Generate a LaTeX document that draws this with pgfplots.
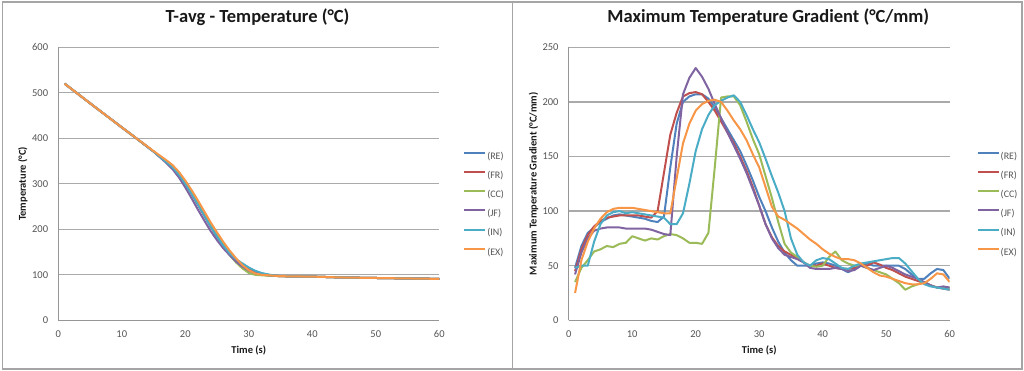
\documentclass[border=0pt]{standalone}
\usepackage{pgfplots}
\usepackage{pgfplotstable}
\pgfplotsset{compat=1.18}
\usepackage{fontspec}
\setmainfont{Carlito}

\definecolor{cRE}{HTML}{4F81BD}
\definecolor{cFR}{HTML}{C0504D}
\definecolor{cCC}{HTML}{9BBB59}
\definecolor{cJF}{HTML}{8064A2}
\definecolor{cIN}{HTML}{4BACC6}
\definecolor{cEX}{HTML}{F79646}
\definecolor{gridc}{RGB}{170,170,170}
\definecolor{axc}{RGB}{150,150,150}
\definecolor{tickc}{RGB}{85,85,85}
\definecolor{framec}{RGB}{165,165,165}

\pgfplotstableread{
x RE FR CC JF IN EX
1 520 520 520 520 520 520
5 477 477 477 477 477 477
10 424 424 424 424 424 424
12 403 403 403 403 403 403
15 371 371 371 371 371 372
17 348 348 348 346 348 352
18 336 336 336 332 336 341
19 320 320 321 314 320 326
20 300 300 302 292 300 307
21 278 278 280 268 278 286
22 254 254 258 243 254 263
23 230 230 233 219 230 239
24 206 206 210 196 206 215
25 184 184 187 176 184 193
26 164 164 165 158 164 172
27 147 147 143 143 147 153
28 133 132 127 129 134 136
29 123 120 114 118 125 121
30 115 111 104 109 116 110
31 108 105 100 104 109 103
32 103 101 99 101 104 100
33 100 99 98 99 101 99
34 98 98 97.5 98 98.5 98
35 97 97 97 97 97.5 97
37 96.5 96.5 96.5 96.5 96.5 96.5
40 96 96 96 96 96 96
45 94 94 94 94 94 94
50 93 93 93 93 93 93
55 92 92 92 92 92 92
60 91 91 91 91 91 91
}\tavg

\pgfplotstableread{
x RE FR CC JF IN EX
1 48 45 35 42 48 25
2 68 65 48 62 50 55
3 80 78 55 75 50 72
4 85 86 63 82 72 84
5 90 91 65 84 88 93
6 93 94 68 85 96 99
7 96 95 67 85 99 102
8 97 96 70 85 100 103
9 96 96 71 84 98 103
10 95 96 77 84 99 103
11 94 96 75 84 98 102
12 93 95 73 84 97 101
13 91 94 75 83 96 100
14 90 100 74 81 95 99
15 95 135 77 79 94 98
16 140 170 79 78 88 98
17 180 190 78 150 88 130
18 200 205 75 207 98 162
19 205 208 71 222 125 180
20 207 209 71 231 155 192
21 207 207 70 223 175 198
22 203 200 80 212 188 201
23 195 192 140 198 197 202
24 185 182 204 185 201 200
25 175 172 205 172 204 192
26 165 162 205 160 206 183
27 155 150 197 148 200 175
28 142 137 182 135 188 165
29 128 122 166 120 175 152
30 113 105 152 105 163 140
31 100 88 132 88 148 122
32 85 76 112 75 132 104
33 72 68 90 66 117 95
34 62 63 70 60 100 92
35 55 60 62 58 75 88
36 50 57 58 56 60 84
37 50 53 53 53 53 79
38 50 50 50 48 50 74
39 52 50 49 47 55 70
40 53 52 50 47 57 65
41 52 50 58 47 56 61
42 50 48 63 48 52 58
43 47 47 55 47 48 56
44 44 47 52 45 47 56
45 47 48 50 46 50 55
46 50 50 50 50 52 52
47 52 50 48 48 53 48
48 50 53 46 46 54 44
49 50 51 44 48 55 41
50 50 48 42 50 56 40
51 50 46 38 48 57 38
52 50 43 34 45 57 36
53 47 40 28 42 52 34
54 42 38 31 40 45 33
55 38 36 33 38 38 33
56 38 34 35 35 33 34
57 43 32 32 32 31 38
58 47 30 30 30 30 43
59 46 29 30 31 29 42
60 38 28 30 30 28 35
}\grad

\pgfplotsset{
  excel/.style={
    scale only axis,
    width=381pt, height=273pt,
    anchor=south west,
    xmin=0, xmax=60, xtick={0,10,...,60},
    axis x line*=bottom, axis y line*=left,
    axis line style={-, color=axc, line width=1pt},
    major tick length=0pt,
    ymajorgrids, grid style={color=gridc, line width=1.3pt},
    /pgf/number format/assume math mode=true,
    tick label style={color=tickc, font=\fontsize{10.5}{12}\selectfont},
    yticklabel style={anchor=east, inner sep=0pt, xshift=-10pt},
    xticklabel style={anchor=center, inner sep=0pt, yshift=-13.5pt},
    title style={at={(axis description cs:0.523,1.089)}, anchor=center,
      font=\fontsize{18.5}{20}\selectfont\bfseries, color=black!90},
    xlabel style={at={(axis description cs:0.5,-0.109)}, anchor=center,
      font=\fontsize{10.5}{12}\selectfont\bfseries, color=black!90},
    ylabel style={at={(axis description cs:-0.093,0.5)}, anchor=center, rotate=0,
      font=\fontsize{10.5}{12}\selectfont\bfseries, color=black!90},
    legend cell align=left,
    legend style={draw=none, fill=none, at={(axis description cs:1.054,0.644)},
      anchor=north west, font=\fontsize{10}{12}\selectfont, row sep=0pt,
      nodes={inner xsep=1.2pt, inner ysep=0pt, minimum height=19.2pt, text=tickc}},
    legend image code/.code={\draw[#1] (0pt,3.4pt) -- (21pt,3.4pt);},
    every axis plot/.append style={line width=2pt, no markers, line join=round},
  }
}

\begin{document}
\begin{tikzpicture}[x=1pt,y=1pt]
\path (0,0) rectangle (1024,371);
\draw[framec, line width=1.4pt] (2.5,2) rectangle (1022,369);
\draw[framec, line width=1.4pt] (512.3,2) -- (512.3,369);

\begin{axis}[excel, at={(58.3pt,50.7pt)},
  ymin=0, ymax=600, ytick={0,100,...,600},
  title={T-avg - Temperature (°C)},
  xlabel={Time (s)}, ylabel={Temperature (°C)}]
\addplot[cRE] table[x=x,y=RE]{\tavg};
\addplot[cFR] table[x=x,y=FR]{\tavg};
\addplot[cCC] table[x=x,y=CC]{\tavg};
\addplot[cJF] table[x=x,y=JF]{\tavg};
\addplot[cIN] table[x=x,y=IN]{\tavg};
\addplot[cEX] table[x=x,y=EX]{\tavg};
\legend{(RE),(FR),(CC),(JF),(IN),(EX)}
\end{axis}

\begin{axis}[excel, at={(568.7pt,50.7pt)},
  ymin=0, ymax=250, ytick={0,50,...,250},
  title style={at={(axis description cs:0.524,1.089)}},
  title={Maximum Temperature Gradient (°C/mm)},
  ylabel style={at={(axis description cs:-0.092,0.5)}},
  legend style={at={(axis description cs:1.062,0.644)}},
  xlabel={Time (s)}, ylabel={Maximum Temperature Gradient (°C/mm)}]
\addplot[cRE] table[x=x,y=RE]{\grad};
\addplot[cFR] table[x=x,y=FR]{\grad};
\addplot[cCC] table[x=x,y=CC]{\grad};
\addplot[cJF] table[x=x,y=JF]{\grad};
\addplot[cIN] table[x=x,y=IN]{\grad};
\addplot[cEX] table[x=x,y=EX]{\grad};
\legend{(RE),(FR),(CC),(JF),(IN),(EX)}
\end{axis}
\end{tikzpicture}
\end{document}
